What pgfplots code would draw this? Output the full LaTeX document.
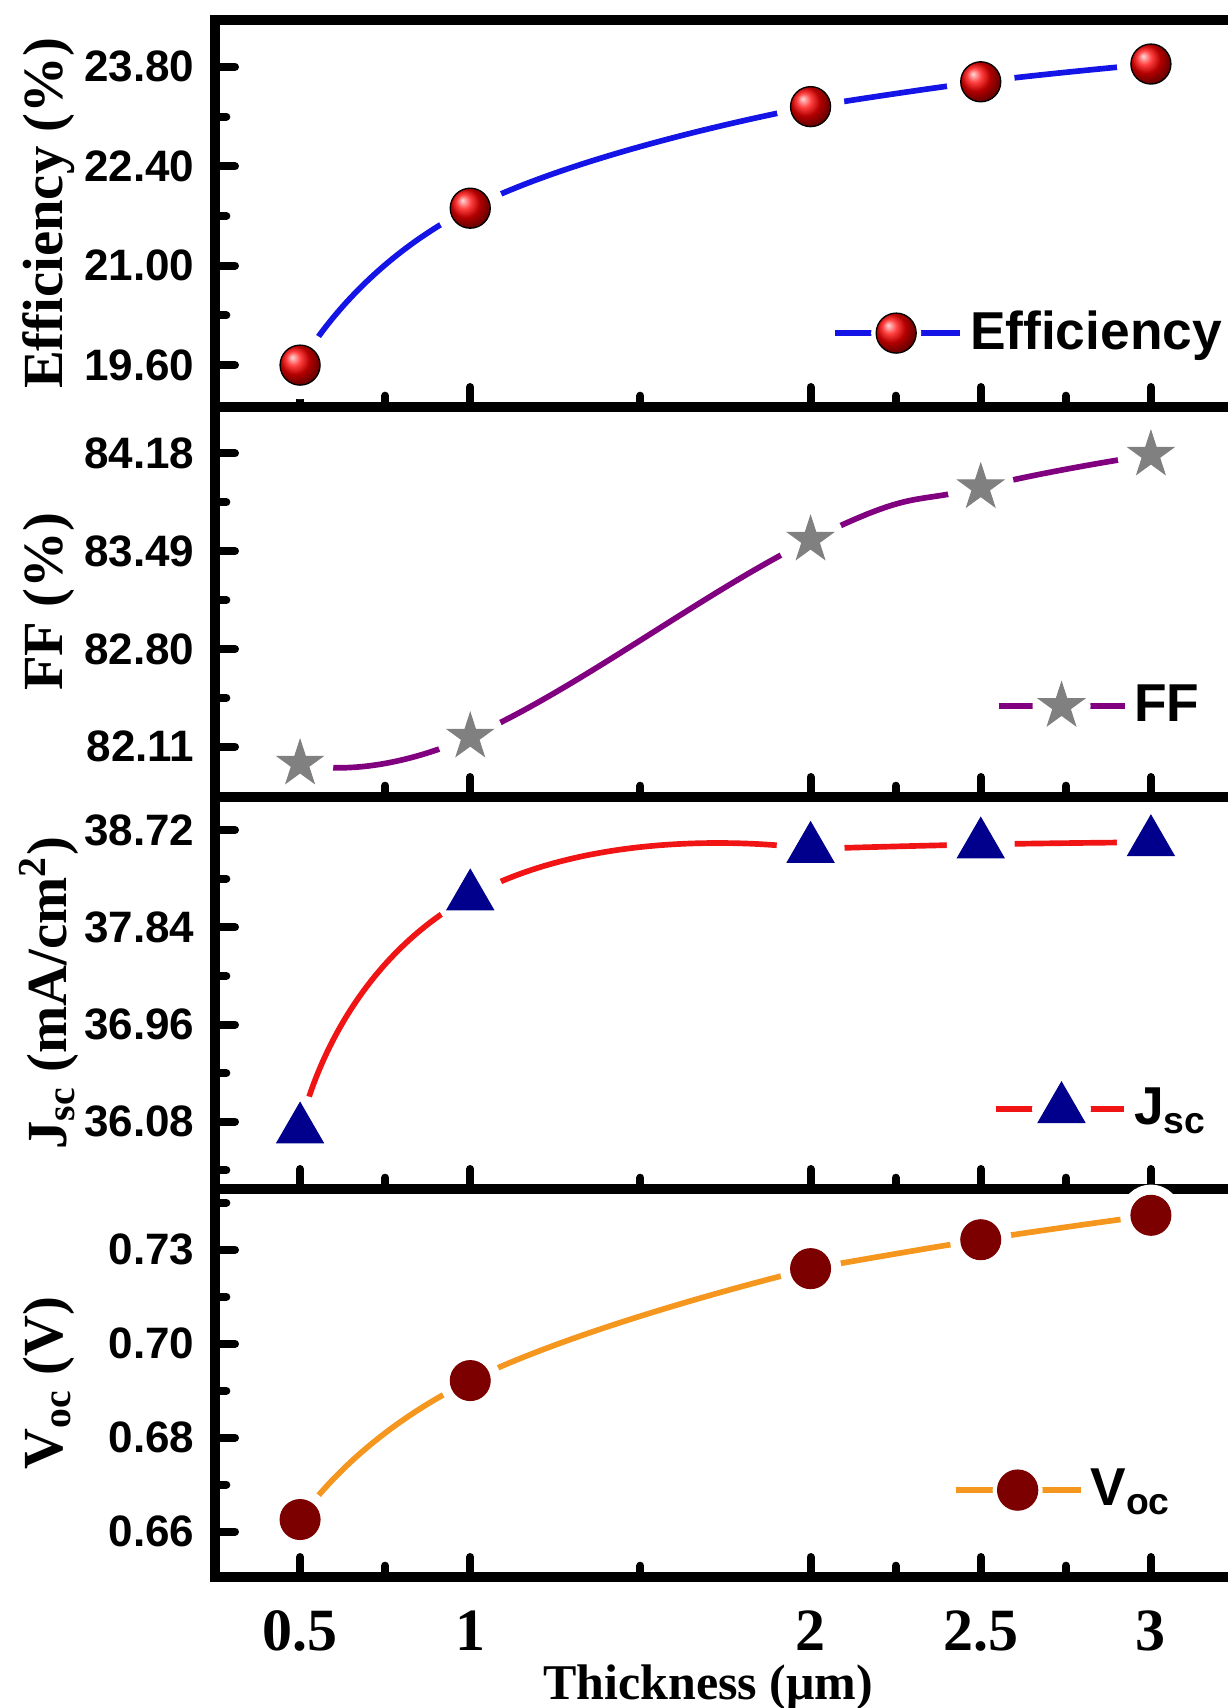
\documentclass[border=0pt]{standalone}
\usepackage{fontspec}
\setmainfont{Liberation Serif}
\newfontfamily\sansb{Liberation Sans}
\usepackage{pgfplots}
\pgfplotsset{compat=1.18}
\usepackage{pgfplotstable}

\definecolor{effblue}{RGB}{20,20,230}
\definecolor{ffpurple}{RGB}{128,0,128}
\definecolor{ffgray}{RGB}{128,128,128}
\definecolor{jscred}{RGB}{240,20,20}
\definecolor{jscnavy}{RGB}{0,0,140}
\definecolor{vocorange}{RGB}{245,150,30}
\definecolor{vocmaroon}{RGB}{125,0,0}

\pgfdeclareplotmark{fstar}{%
  \pgfpathmoveto{\pgfpointpolar{90}{\pgfplotmarksize}}%
  \pgfpathlineto{\pgfpointpolar{126}{0.382*\pgfplotmarksize}}%
  \pgfpathlineto{\pgfpointpolar{162}{\pgfplotmarksize}}%
  \pgfpathlineto{\pgfpointpolar{198}{0.382*\pgfplotmarksize}}%
  \pgfpathlineto{\pgfpointpolar{234}{\pgfplotmarksize}}%
  \pgfpathlineto{\pgfpointpolar{270}{0.382*\pgfplotmarksize}}%
  \pgfpathlineto{\pgfpointpolar{306}{\pgfplotmarksize}}%
  \pgfpathlineto{\pgfpointpolar{342}{0.382*\pgfplotmarksize}}%
  \pgfpathlineto{\pgfpointpolar{18}{\pgfplotmarksize}}%
  \pgfpathlineto{\pgfpointpolar{54}{0.382*\pgfplotmarksize}}%
  \pgfpathclose
  \pgfusepathqfillstroke
}

\pgfplotstableread{
x y
0.5 19.60
1   21.81
2   23.24
2.5 23.59
3   23.84
}\eff
\pgfplotstableread{
x y
0.5 81.99
1   82.18
2   83.57
2.5 83.94
3   84.17
}\ff
\pgfplotstableread{
x y
0.5 36.01
1   38.12
2   38.55
2.5 38.59
3   38.61
}\jsc
\pgfplotstableread{
x y
0.5 0.6582
1   0.6952
2   0.7250
2.5 0.7327
3   0.7392
}\voc

\pgfplotsset{panel/.style={
  scale only axis, width=306.3pt, anchor=south west,
  xmin=0.25, xmax=3.25, scaled ticks=false,
  axis line style={line width=3.2pt},
  tick align=inside, tick pos=left,
  xtick={0.5,1,2,2.5,3}, minor xtick={0.75,1.5,2.25,2.75},
  major tick length=6pt, minor tick length=3.4pt,
  tick style={line width=2.4pt, black, line cap=round},
  xticklabels=\empty,
  yticklabel style={font=\sansb\bfseries\fontsize{13.2}{13.2}\selectfont, inner sep=0pt, xshift=-6pt},
  ylabel style={font=\bfseries\fontsize{17}{17}\selectfont, at={(axis description cs:-0.163,0.5)}, anchor=center},
  axis on top,
  legend style={draw=none, fill=none, inner sep=0pt, anchor=west,
    nodes={inner sep=0pt, inner xsep=2.1pt},
    font=\sansb\bfseries\fontsize{16}{16}\selectfont},
},
firstpart/.style={restrict x to domain=0.4:2.1},
secondpart/.style={restrict x to domain=1.9:3.1}}

\begin{document}
\begin{tikzpicture}
\begin{scope}
\clip (0pt,0pt) rectangle (368.4pt,-512.4pt);

% ---------- Efficiency ----------
\begin{axis}[panel, at={(64.5pt,-122.1pt)}, height=116.1pt,
  ymin=19.01, ymax=24.46,
  ytick={19.6,21,22.4,23.8}, yticklabels={19.60,21.00,22.40,23.80},
  minor ytick={20.3,21.7,23.1},
  ylabel={Efficiency (\%)},
  legend style={at={(axis description cs:0.604,0.191)}}]
\addplot[effblue, line width=1.7pt, smooth, tension=0.85, firstpart, forget plot] table {\eff};
\addplot[effblue, line width=1.7pt, smooth, tension=0.7, secondpart, forget plot] table {\eff};
\addplot[only marks, mark=*, mark size=10pt, white, forget plot] table {\eff};
\addplot[only marks, mark=ball, mark size=6pt, mark options={ball color=red}, forget plot] table {\eff};
\addlegendimage{legend image code/.code={
  \draw[effblue, line width=1.7pt] (0pt,0pt) -- (37.5pt,0pt);
  \fill[white] (18.3pt,0pt) circle (7.3pt);
  \shade[ball color=red] (18.3pt,0pt) circle (6pt);}}
\addlegendentry{Efficiency}
\end{axis}

% ---------- FF ----------
\begin{axis}[panel, at={(64.5pt,-239.1pt)}, height=117pt,
  ymin=81.755, ymax=84.507,
  ytick={82.11,82.80,83.49,84.18}, yticklabels={82.11,82.80,83.49,84.18},
  minor ytick={82.455,83.145,83.835},
  ylabel={FF (\%)},
  legend style={at={(axis description cs:0.764,0.233)}}]
\addplot[ffpurple, line width=1.7pt, smooth, tension=0.75, forget plot] table {\ff};
\addplot[only marks, mark=*, mark size=9.8pt, white, forget plot] table {\ff};
\addplot[only marks, mark=fstar, mark size=7.2pt, mark options={fill=ffgray, draw=ffgray, line width=0.3pt}, forget plot] table {\ff};
\addlegendimage{legend image code/.code={
  \draw[ffpurple, line width=1.7pt] (0pt,0pt) -- (37.8pt,0pt);
  \fill[white] (18.9pt,0pt) circle (8.5pt);
  \path[fill=ffgray, draw=ffgray, line width=0.3pt] plot[only marks, mark=fstar, mark size=7.2pt] coordinates {(18.9pt,0pt)};}}
\addlegendentry{FF}
\end{axis}

% ---------- Jsc ----------
\begin{axis}[panel, at={(64.5pt,-356.7pt)}, height=117.6pt,
  ymin=35.471, ymax=39.019,
  ytick={36.08,36.96,37.84,38.72}, yticklabels={36.08,36.96,37.84,38.72},
  minor ytick={35.64,36.52,37.40,38.28},
  ylabel={J\textsubscript{sc} (mA/cm\textsuperscript{2})},
  legend style={at={(axis description cs:0.762,0.204)}}]
\addplot[jscred, line width=1.7pt, smooth, tension=1.0, firstpart, forget plot] table {\jsc};
\addplot[jscred, line width=1.7pt, smooth, tension=0.7, secondpart, forget plot] table {\jsc};
\addplot[only marks, mark=*, mark size=10pt, white, forget plot] table {\jsc};
\addplot[only marks, mark=triangle*, mark size=8.1pt, mark options={fill=jscnavy, draw=jscnavy, line width=0.3pt}, forget plot] table {\jsc};
\addlegendimage{legend image code/.code={
  \draw[jscred, line width=1.7pt] (0pt,0pt) -- (38.4pt,0pt);
  \fill[white] (19.5pt,0pt) circle (8.6pt);
  \path[fill=jscnavy, draw=jscnavy, line width=0.3pt] plot[only marks, mark=triangle*, mark size=8.1pt] coordinates {(19.5pt,0pt)};}}
\addlegendentry{J\textsubscript{sc}}
\end{axis}

% ---------- Voc ----------
\begin{axis}[panel, at={(64.5pt,-473.1pt)}, height=116.4pt,
  ymin=0.6429, ymax=0.7462,
  ytick={0.655,0.68,0.705,0.73}, yticklabels={0.66,0.68,0.70,0.73},
  minor ytick={0.6675,0.6925,0.7175,0.7425},
  xticklabels={0.5,1,2,2.5,3},
  xticklabel style={font=\bfseries\fontsize{18}{18}\selectfont, inner sep=0pt, yshift=-10pt},
  ylabel={V\textsubscript{oc} (V)},
  xlabel={Thickness (μm)},
  xlabel style={font=\bfseries\fontsize{15}{15}\selectfont, at={(axis description cs:0.483,0)}, anchor=north, inner sep=0pt, yshift=-26pt},
  legend style={at={(axis description cs:0.722,0.224)}}]
\addplot[vocorange, line width=1.7pt, smooth, tension=0.85, firstpart, forget plot] table {\voc};
\addplot[vocorange, line width=1.7pt, smooth, tension=0.7, secondpart, forget plot] table {\voc};
\addplot[only marks, mark=*, mark size=9pt, white, forget plot] table {\voc};
\addplot[only marks, mark=*, mark size=6pt, mark options={fill=vocmaroon, draw=vocmaroon, line width=0.3pt}, forget plot] table {\voc};
\addlegendimage{legend image code/.code={
  \draw[vocorange, line width=1.7pt] (0pt,0pt) -- (37.5pt,0pt);
  \fill[white] (18.6pt,0pt) circle (7.3pt);
  \fill[vocmaroon] (18.6pt,0pt) circle (6pt);}}
\addlegendentry{V\textsubscript{oc}}
\end{axis}
\end{scope}
\pgfresetboundingbox
\useasboundingbox (0pt,0pt) rectangle (368.4pt,-512.4pt);
\end{tikzpicture}
\end{document}
